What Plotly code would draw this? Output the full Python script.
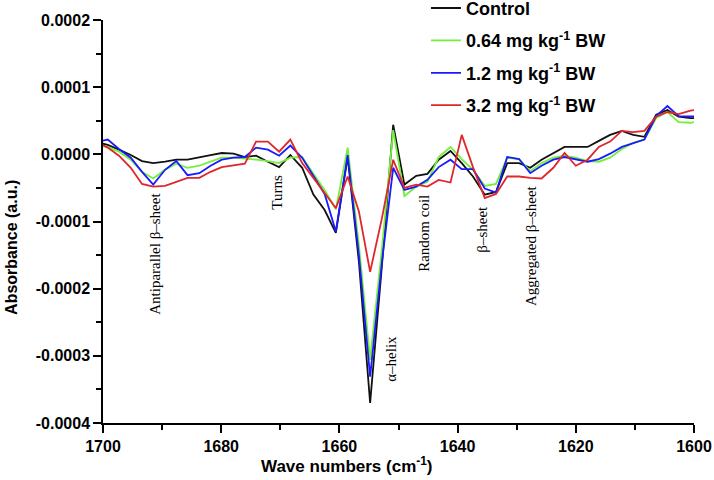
import plotly.graph_objects as go

# Wavenumbers (cm^-1)
wavenumbers = [1701.1, 1699.2, 1697.3, 1695.3, 1693.4, 1691.5, 1689.5, 1687.6, 1685.7, 1683.7,
               1681.8, 1679.9, 1677.9, 1676.0, 1674.1, 1672.1, 1670.2, 1668.3, 1666.3, 1664.4,
               1662.5, 1660.6, 1658.6, 1656.7, 1654.8, 1652.8, 1650.9, 1649.0, 1647.0, 1645.1,
               1643.2, 1641.2, 1639.3, 1637.4, 1635.4, 1633.5, 1631.6, 1629.6, 1627.7, 1625.8,
               1623.8, 1621.9, 1620.0, 1618.0, 1616.1, 1614.2, 1612.2, 1610.3, 1608.4, 1606.4,
               1604.5, 1602.6, 1600.6, 1598.7]

# Absorbance values in units of 1e-4 a.u.
control = [0.18, 0.14, 0.07, -0.01, -0.10, -0.13, -0.11, -0.08, -0.08, -0.05,
           -0.01, 0.02, 0.01, -0.04, -0.02, -0.11, -0.19, -0.01, -0.20, -0.60,
           -0.83, -1.17, -0.04, -1.60, -3.70, -1.65, 0.44, -0.45, -0.32, -0.29,
           -0.08, 0.05, -0.13, -0.33, -0.60, -0.56, -0.13, -0.13, -0.20, -0.08,
           0.02, 0.11, 0.11, 0.11, 0.20, 0.29, 0.35, 0.29, 0.26, 0.59,
           0.66, 0.56, 0.54, 0.54]
dose_064 = [0.14, 0.11, 0.04, -0.08, -0.26, -0.36, -0.23, -0.14, -0.20, -0.17,
            -0.11, -0.05, -0.05, -0.07, -0.08, -0.10, -0.13, -0.05, -0.04, -0.29,
            -0.53, -0.82, 0.10, -1.35, -3.06, -1.40, 0.36, -0.62, -0.48, -0.41,
            -0.04, 0.11, -0.07, -0.23, -0.47, -0.44, -0.05, -0.07, -0.25, -0.13,
            -0.05, -0.02, -0.05, -0.10, -0.11, -0.05, 0.08, 0.17, 0.22, 0.54,
            0.63, 0.48, 0.47, 0.50]
dose_12 = [0.18, 0.22, 0.08, -0.05, -0.26, -0.45, -0.23, -0.10, -0.31, -0.28,
           -0.17, -0.08, -0.05, -0.04, 0.10, 0.07, -0.02, 0.13, -0.05, -0.32,
           -0.59, -1.15, -0.01, -1.50, -3.31, -1.60, -0.20, -0.53, -0.48, -0.38,
           -0.19, -0.08, -0.22, -0.22, -0.51, -0.57, -0.04, -0.07, -0.28, -0.17,
           -0.08, -0.04, -0.07, -0.11, -0.07, 0.01, 0.11, 0.17, 0.22, 0.57,
           0.72, 0.57, 0.56, 0.56]
dose_32 = [0.18, 0.10, -0.02, -0.20, -0.44, -0.48, -0.47, -0.41, -0.35, -0.35,
           -0.26, -0.19, -0.16, -0.14, 0.19, 0.19, 0.04, 0.22, -0.13, -0.35,
           -0.57, -0.80, -0.33, -0.85, -1.75, -0.95, -0.08, -0.50, -0.45, -0.48,
           -0.38, -0.42, 0.29, -0.19, -0.65, -0.59, -0.33, -0.33, -0.35, -0.36,
           -0.20, 0.02, -0.17, -0.08, 0.11, 0.19, 0.35, 0.33, 0.35, 0.56,
           0.63, 0.60, 0.65, 0.68]

UNIT = 1e-4

series_names = ["Control",
                "0.64 mg kg<sup>-1</sup> BW",
                "1.2 mg kg<sup>-1</sup> BW",
                "3.2 mg kg<sup>-1</sup> BW"]
series_values = [control, dose_064, dose_12, dose_32]
series_colors = ["#111111", "#72f03a", "#1a1aff", "#e0262a"]

y_tickvals = [-0.0004, -0.0003, -0.0002, -0.0001, 0.0, 0.0001, 0.0002]
y_ticktext = ["-0.0004", "-0.0003", "-0.0002", "-0.0001", "0.0000", "0.0001", "0.0002"]
x_tickvals = [1700, 1680, 1660, 1640, 1620, 1600]

# band labels: (text, wavenumber, absorbance)
band_labels = [("Antiparallel β–sheet", 1691.2, -1.48e-4),
               ("Turns", 1670.6, -0.56e-4),
               ("α–helix", 1651.4, -3.04e-4),
               ("Random coil", 1645.7, -1.17e-4),
               ("β–sheet", 1635.9, -1.11e-4),
               ("Aggregated β–sheet", 1627.7, -1.36e-4)]

SANS = "Arial, 'Liberation Sans', sans-serif"
SERIF = "'Times New Roman', 'Liberation Serif', serif"

fig = go.Figure()
for i, (name, vals, col) in enumerate(zip(series_names, series_values, series_colors)):
    fig.add_trace(go.Scatter(x=wavenumbers, y=[v * UNIT for v in vals], mode="lines",
                             name=f"<b>{name}</b>", legendgroup=f"g{i}",
                             line=dict(color=col, width=1.8)))

for text, wx, wy in band_labels:
    fig.add_annotation(x=wx, y=wy, xref="x", yref="y", text=text, textangle=-90,
                       showarrow=False, xanchor="center", yanchor="middle",
                       font=dict(family=SERIF, size=15, color="black"))

# axis titles
fig.add_annotation(x=-0.154, y=0.437, xref="paper", yref="paper",
                   text="<b>Absorbance (a.u.)</b>", textangle=-90, showarrow=False,
                   xanchor="center", yanchor="middle",
                   font=dict(family=SANS, size=16, color="black"))
fig.add_annotation(x=0.413, y=-0.104, xref="paper", yref="paper",
                   text="<b>Wave numbers (cm<sup>-1</sup>)</b>", showarrow=False,
                   xanchor="center", yanchor="middle",
                   font=dict(family=SANS, size=17, color="black"))

fig.update_layout(
    width=714, height=480,
    margin=dict(l=103, r=20, t=20, b=57, autoexpand=False),
    paper_bgcolor="white", plot_bgcolor="white",
    showlegend=True,
    legend=dict(x=0.5465, y=1.075, xanchor="left", yanchor="top",
                bgcolor="rgba(0,0,0,0)", borderwidth=0,
                font=dict(family=SANS, size=18, color="black"),
                tracegroupgap=6),
    font=dict(family=SANS, color="black"),
)

fig.update_xaxes(range=[1700, 1600], showgrid=False, zeroline=False,
                 showline=True, linecolor="black", linewidth=1.5,
                 ticks="outside", ticklen=8, tickwidth=1.5, tickcolor="black",
                 tickvals=x_tickvals, ticktext=[f"<b>{v}</b>" for v in x_tickvals],
                 tickfont=dict(family=SANS, size=16, color="black"),
                 minor=dict(dtick=10, ticklen=5, tickwidth=1.5, tickcolor="black", ticks="outside",
                            showgrid=False))
fig.update_yaxes(range=[-0.0004, 0.0002], showgrid=False, zeroline=False,
                 showline=True, linecolor="black", linewidth=1.5,
                 ticks="outside", ticklen=8, tickwidth=1.5, tickcolor="black",
                 tickvals=y_tickvals, ticktext=[f"<b>{t}</b>" for t in y_ticktext],
                 tickfont=dict(family=SANS, size=16, color="black"),
                 minor=dict(dtick=0.00005, tick0=0, ticklen=5, tickwidth=1.5, tickcolor="black",
                            ticks="outside", showgrid=False))

fig.write_html("out.html", config={"displayModeBar": False},
               post_script="document.body.style.margin='0';document.body.style.padding='0';")
